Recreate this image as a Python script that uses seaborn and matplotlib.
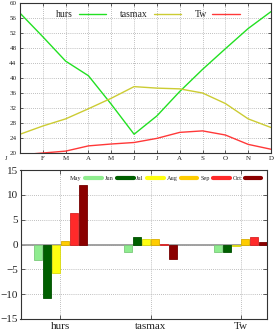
import numpy as np
import pandas as pd
import matplotlib
matplotlib.use("Agg")
import matplotlib.pyplot as plt
import matplotlib.transforms as mtransforms
from matplotlib.lines import Line2D
import seaborn as sns

# monthly climatology (top panel)
months = ["J", "F", "M", "A", "M", "J", "J", "A", "S", "O", "N", "D"]
hurs = [57.3, 51.0, 44.5, 40.6, 33.0, 25.0, 29.9, 36.4, 42.3, 47.8, 53.2, 57.7]
tasmax = [25.0, 27.2, 29.1, 31.8, 34.6, 37.7, 37.3, 37.1, 36.0, 33.2, 29.1, 26.8]
tw = [19.5, 20.0, 20.5, 21.9, 22.4, 22.8, 23.9, 25.5, 25.9, 24.8, 22.3, 21.0]

# anomalies (bottom panel)
variables = ["hurs", "tasmax", "Tw"]
anom_months = ["May", "Jun", "Jul", "Aug", "Sep", "Oct"]
anom_hurs = [-3.1, -10.8, -5.7, 0.7, 6.4, 12.0]
anom_tasmax = [-1.5, 1.6, 1.2, 1.1, 0.2, -2.9]
anom_tw = [-1.6, -1.5, -0.4, 1.2, 1.6, 0.5]

line_colors = {"hurs": "#22e022", "tasmax": "#cccc33", "Tw": "#ff3838"}
bar_colors = ["#8fec8f", "#005f00", "#ffff10", "#ffcc00", "#ff2a2a", "#8b0000"]

sns.set_style("ticks")
plt.rcParams['font.family'] = ['Liberation Serif', 'DejaVu Serif']
plt.rcParams['axes.unicode_minus'] = True

fig = plt.figure(figsize=(2.75, 3.3), dpi=100)
ax1 = fig.add_axes([20 / 275, 1 - 153 / 330, 251 / 275, 150 / 330])
ax2 = fig.add_axes([20.5 / 275, 11 / 330, 246.5 / 275, 149 / 330])

grid_kw = dict(color="#aaaaaa", linestyle=(0, (1, 1.5)), linewidth=0.6)

# ---- top panel: lines
df_top = pd.DataFrame({"m": range(12), "hurs": hurs, "tasmax": tasmax, "Tw": tw})
df_top = df_top.melt(id_vars="m", var_name="var", value_name="value")
sns.lineplot(data=df_top, x="m", y="value", hue="var", palette=line_colors,
             linewidth=1.0, ax=ax1, legend=False)
ax1.set_xlim(0, 11)
ax1.set_ylim(20, 60)
ax1.set_xticks(range(12))
ax1.set_xticklabels(months)
ax1.set_yticks(np.arange(20, 61, 4))
ax1.set_xlabel("")
ax1.set_ylabel("")
ax1.set_axisbelow(True)
ax1.grid(True, **grid_kw)
ax1.tick_params(direction="in", top=True, right=True, length=2.5, width=0.5,
                labelsize=5, pad=2.5, colors="#222222")
# first J label sits left of the axis in the original
lbl = ax1.get_xticklabels()[0]
lbl.set_transform(lbl.get_transform() + mtransforms.ScaledTranslation(-0.14, 0, fig.dpi_scale_trans))

handles = [Line2D([], [], color=line_colors[k], lw=1.0) for k in ["hurs", "tasmax", "Tw"]]
ax1.legend(handles, ["hurs", "tasmax", "Tw"], ncol=3, loc="upper center",
           bbox_to_anchor=(0.51, 1.01), markerfirst=False, frameon=False,
           fontsize=7, handlelength=2.8, handletextpad=0.6, columnspacing=1.4)

# ---- bottom panel: grouped bars
df_bot = pd.DataFrame({
    "variable": np.repeat(variables, len(anom_months)),
    "month": anom_months * 3,
    "value": anom_hurs + anom_tasmax + anom_tw,
})
sns.barplot(data=df_bot, x="variable", y="value", hue="month", hue_order=anom_months,
            palette=bar_colors, saturation=1, width=0.6, gap=0.12, ax=ax2,
            legend=False, linewidth=0.6)
for p in ax2.patches:
    fc = p.get_facecolor()
    p.set_edgecolor(tuple(c * 0.85 for c in fc[:3]) + (1,))
ax2.axhline(0, color="#9a9a9a", lw=1.3, zorder=0.9)
ax2.set_xlim(-0.44, 2.29)
ax2.set_ylim(-15, 15)
ax2.set_yticks(np.arange(-15, 16, 5))
ax2.set_xlabel("")
ax2.set_ylabel("")
ax2.set_axisbelow(True)
ax2.grid(True, **grid_kw)
ax2.tick_params(direction="in", top=True, right=True, length=3, width=0.5,
                labelsize=8, pad=2, colors="#222222")

bh = [Line2D([], [], color=c, lw=3) for c in bar_colors]
ax2.legend(bh, anom_months, ncol=6, loc="upper right", bbox_to_anchor=(1.0, 1.0),
           markerfirst=False, frameon=False, fontsize=4.5, handlelength=2.7,
           handletextpad=0.5, columnspacing=0.45)

for ax in (ax1, ax2):
    for s in ax.spines.values():
        s.set_color("#333333")
        s.set_linewidth(0.8)

fig.savefig("out.png", dpi=100)
